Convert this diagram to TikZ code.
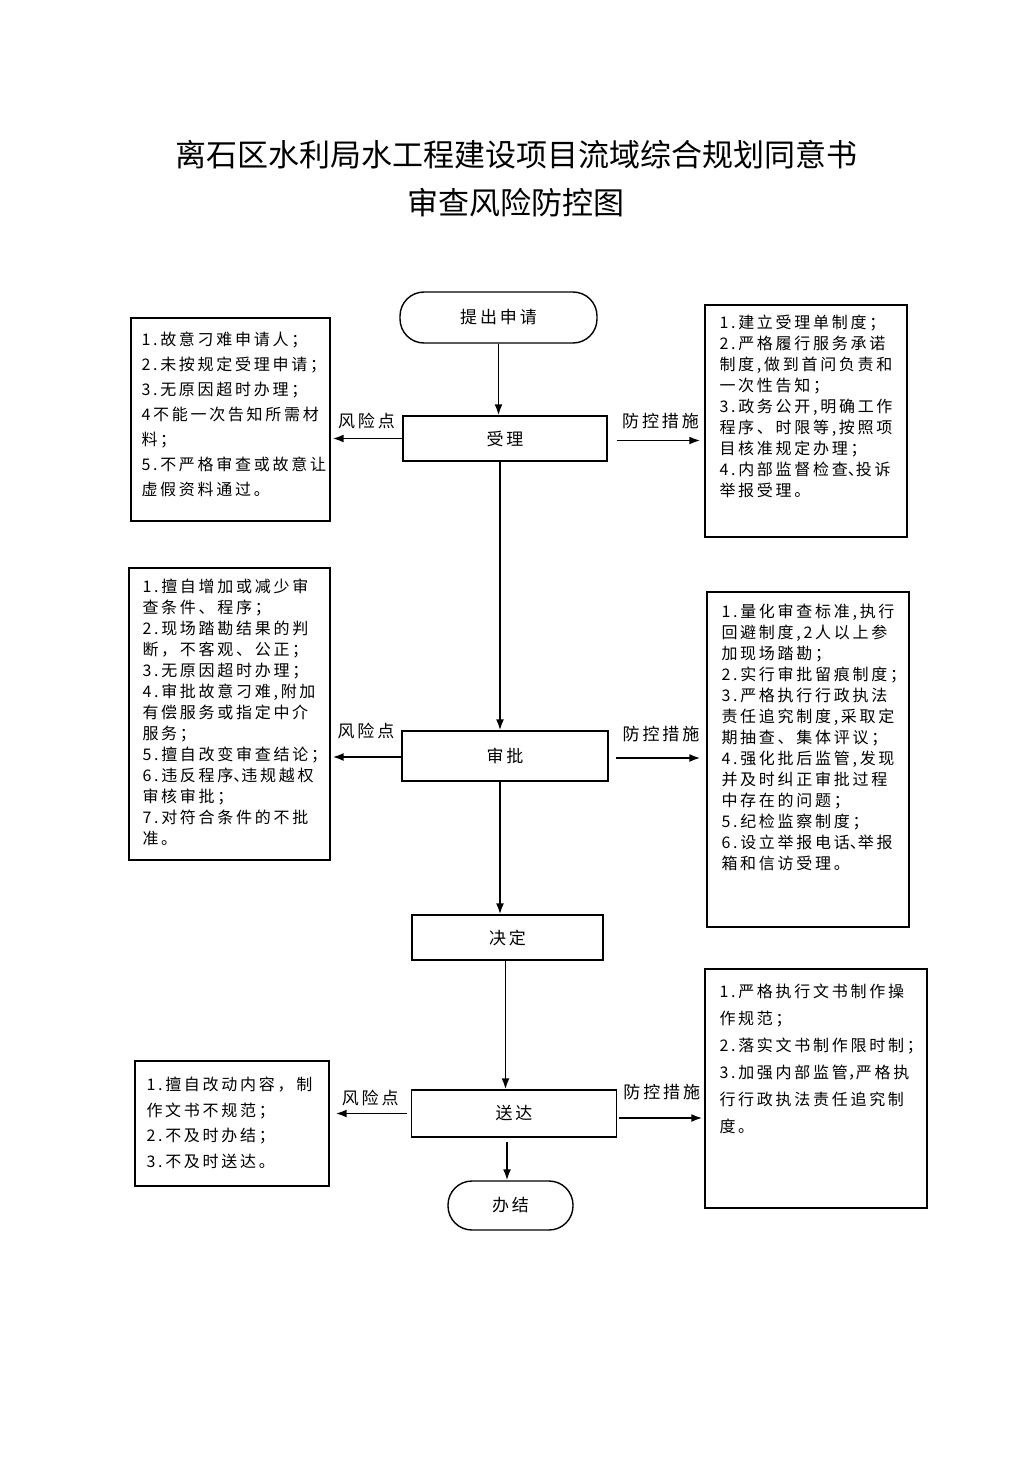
\documentclass[tikz,border=0pt]{standalone}
\usepackage{fontspec}
\newfontfamily\cjk[LetterSpace=17]{Noto Sans CJK SC}
\newfontfamily\cjkhalf[LetterSpace=17,RawFeature=+halt]{Noto Sans CJK SC}
\newfontfamily\cjkhead{Noto Sans CJK SC}
\newcommand{\half}[1]{{\cjkhalf #1}}
\usetikzlibrary{arrows.meta,positioning}
\begin{document}
\begin{tikzpicture}[x=1pt,y=-1pt,
  main/.style={draw,line width=1.4pt,inner sep=0pt,font=\fontsize{17}{20}\cjk},
  ends/.style={main,rounded corners=24pt},
  frame/.style={draw,line width=1.4pt,inner sep=0pt},
  note/.style={anchor=north west,inner sep=0pt,align=left,text width=215pt,font=\fontsize{16}{#1}\cjk},
  note/.default=21,
  tag/.style={midway,above=#1,inner sep=0pt,font=\fontsize{17}{20}\cjk},
  flow/.style={-{Latex[length=11pt,width=8pt]},line width=1.8pt}]
\useasboundingbox (0,0) rectangle (1033,1461);
\node[font=\fontsize{31}{48}\cjkhead,align=center] (title) at (516,179) {离石区水利局水工程建设项目流域综合规划同意书\\审查风险防控图};
\node[ends,minimum width=197pt,minimum height=51pt] (apply) at (498.5,317.5) {提出申请};
\node[main,minimum width=204pt,minimum height=45pt] (accept) at (505,438.5) {受理};
\node[main,minimum width=206pt,minimum height=50pt] (review) at (505,756) {审批};
\node[main,minimum width=191pt,minimum height=45pt] (decide) at (507.5,937.5) {决定};
\node[main,minimum width=205pt,minimum height=47pt] (deliver) at (514,1113.5) {送达};
\node[ends,minimum width=125pt,minimum height=49pt] (close) at (510.5,1205.5) {办结};
\node[frame,minimum width=199pt,minimum height=203pt] (risk1) at (230.5,419.5) {};
\node[frame,minimum width=202pt,minimum height=232pt] (ctrl1) at (806,421) {};
\node[frame,minimum width=201pt,minimum height=292pt] (risk2) at (229.5,714) {};
\node[frame,minimum width=202pt,minimum height=335pt] (ctrl2) at (808,759.5) {};
\node[frame,minimum width=194pt,minimum height=125pt] (risk3) at (232,1123.5) {};
\node[frame,minimum width=222pt,minimum height=239pt] (ctrl3) at (816,1088.5) {};
\node[note=25] (risk1txt) at ([xshift=11pt,yshift=-14pt]risk1.north west) {1.故意刁难申请人；\\2.未按规定受理申请；\\3.无原因超时办理；\\4不能一次告知所需材\\料；\\5.不严格审查或故意让\\虚假资料通过。};
\node[note] (ctrl1txt) at ([xshift=15pt,yshift=-10.5pt]ctrl1.north west) {1.建立受理单制度；\\2.严格履行服务承诺\\制度,做到首问负责和\\一次性告知；\\3.政务公开,明确工作\\程序、时限等,按照项\\目核准规定办理；\\4.内部监督检查\half{、}投诉\\举报受理。};
\node[note] (risk2txt) at ([xshift=14pt,yshift=-11.5pt]risk2.north west) {1.擅自增加或减少审\\查条件、程序；\\2.现场踏勘结果的判\\断，不客观、公正；\\3.无原因超时办理；\\4.审批故意刁难,附加\\有偿服务或指定中介\\服务；\\5.擅自改变审查结论；\\6.违反程序\half{、}违规越权\\审核审批；\\7.对符合条件的不批\\准。};
\node[note] (ctrl2txt) at ([xshift=15pt,yshift=-12.5pt]ctrl2.north west) {1.量化审查标准,执行\\回避制度,2人以上参\\加现场踏勘；\\2.实行审批留痕制度；\\3.严格执行行政执法\\责任追究制度,采取定\\期抽查、集体评议；\\4.强化批后监管,发现\\并及时纠正审批过程\\中存在的问题；\\5.纪检监察制度；\\6.设立举报电话\half{、}举报\\箱和信访受理。};
\node[note=25.7] (risk3txt) at ([xshift=12pt,yshift=-16.5pt]risk3.north west) {1.擅自改动内容，制\\作文书不规范；\\2.不及时办结；\\3.不及时送达。};
\node[note=27] (ctrl3txt) at ([xshift=15pt,yshift=-15.5pt]ctrl3.north west) {1.严格执行文书制作操\\作规范；\\2.落实文书制作限时制；\\3.加强内部监管\half{，}严格执\\行行政执法责任追究制\\度。};
\draw[flow] (apply.south) -- (apply.south |- accept.north);
\draw[flow] ([xshift=-5pt]accept.south) -- ([xshift=-5pt]accept.south |- review.north);
\draw[flow] ([xshift=-5pt]review.south) -- ([xshift=-5pt]review.south |- decide.north);
\draw[flow] ([xshift=-2pt]decide.south) -- ([xshift=-2pt]decide.south |- deliver.north);
\draw[flow] ([xshift=-7pt,yshift=-4pt]deliver.south) -- ([xshift=-7pt]deliver.south |- close.north);
\draw[flow,shorten >=2pt] (accept.west) -- (accept.west -| risk1.east) node[tag=9pt] {风险点};
\draw[flow,shorten >=4pt] ([xshift=9pt,yshift=-2pt]accept.east) -- ([yshift=-2pt]accept.east -| ctrl1.west) node[tag=11pt] {防控措施};
\draw[flow,shorten >=2pt] ([yshift=-1pt]review.west) -- ([yshift=-1pt]review.west -| risk2.east) node[tag=17pt] {风险点};
\draw[flow,shorten >=6pt] ([xshift=7pt,yshift=-2pt]review.east) -- ([yshift=-2pt]review.east -| ctrl2.west) node[tag=15pt] {防控措施};
\draw[flow,shorten <=4pt,shorten >=6pt] (deliver.west) -- (deliver.west -| risk3.east) node[tag=7pt] {风险点};
\draw[flow,shorten >=2pt] ([xshift=2pt,yshift=-4.5pt]deliver.east) -- ([yshift=-4.5pt]deliver.east -| ctrl3.west) node[tag=17pt] {防控措施};
\end{tikzpicture}
\end{document}
